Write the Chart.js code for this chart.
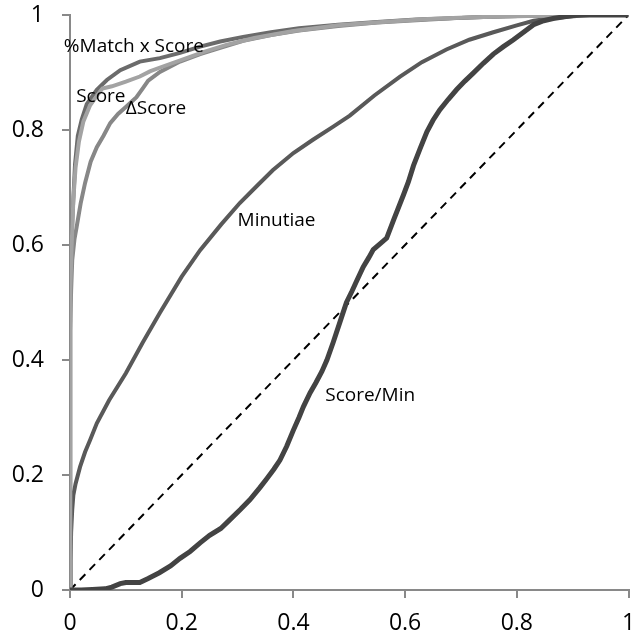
<!DOCTYPE html>
<html>
<head>
<meta charset="utf-8">
<script src="https://cdn.jsdelivr.net/npm/chart.js@4.4.1/dist/chart.umd.min.js"></script>
<style>
  html, body { margin: 0; padding: 0; background: #fff; overflow: hidden; }
  #wrap { width: 632px; height: 639px; position: relative; }
</style>
</head>
<body>
<div id="wrap"><canvas id="roc" width="632" height="639"></canvas></div>
<script>
// Axis ticks (both axes run 0..1)
const tickValues = [0, 0.2, 0.4, 0.6, 0.8, 1];
const tickLabels = ['0', '0.2', '0.4', '0.6', '0.8', '1'];

// %Match x Score
const matchScoreX = [0, 0, 0.001, 0.002, 0.004, 0.009, 0.014, 0.021, 0.03, 0.048, 0.066, 0.09, 0.125, 0.161, 0.197, 0.233, 0.269, 0.31, 0.36, 0.41, 0.48, 0.55, 0.62, 0.7, 0.78, 0.85, 0.9, 1];
const matchScoreY = [0, 0.45, 0.52, 0.58, 0.64, 0.74, 0.79, 0.818, 0.845, 0.87, 0.887, 0.904, 0.919, 0.925, 0.934, 0.945, 0.954, 0.962, 0.97, 0.977, 0.983, 0.988, 0.992, 0.995, 0.998, 0.999, 1, 1];

// Score
const scoreX = [0, 0, 0.001, 0.003, 0.006, 0.01, 0.016, 0.024, 0.036, 0.05, 0.058, 0.075, 0.1, 0.125, 0.143, 0.165, 0.2, 0.24, 0.28, 0.33, 0.4, 0.48, 0.56, 0.64, 0.72, 0.8, 0.86, 0.9, 1];
const scoreY = [0, 0.42, 0.52, 0.6, 0.68, 0.735, 0.78, 0.815, 0.843, 0.862, 0.872, 0.876, 0.884, 0.893, 0.902, 0.91, 0.922, 0.936, 0.948, 0.96, 0.972, 0.982, 0.988, 0.993, 0.996, 0.998, 0.999, 1, 1];

// ΔScore
const deltaScoreX = [0, 0, 0.002, 0.004, 0.008, 0.012, 0.019, 0.027, 0.037, 0.048, 0.06, 0.072, 0.086, 0.1, 0.119, 0.13, 0.14, 0.161, 0.197, 0.233, 0.269, 0.31, 0.36, 0.41, 0.48, 0.55, 0.62, 0.7, 0.78, 0.85, 0.9, 1];
const deltaScoreY = [0, 0.45, 0.52, 0.574, 0.61, 0.632, 0.672, 0.708, 0.745, 0.77, 0.79, 0.812, 0.828, 0.84, 0.857, 0.872, 0.886, 0.901, 0.919, 0.932, 0.943, 0.955, 0.965, 0.973, 0.981, 0.987, 0.991, 0.995, 0.998, 0.999, 1, 1];

// Minutiae
const minutiaeX = [0, 0.001, 0.002, 0.004, 0.006, 0.01, 0.018, 0.027, 0.036, 0.048, 0.07, 0.1, 0.13, 0.161, 0.2, 0.233, 0.27, 0.304, 0.335, 0.363, 0.4, 0.435, 0.47, 0.501, 0.545, 0.591, 0.63, 0.674, 0.715, 0.758, 0.8, 0.83, 0.86, 0.89, 0.93, 1];
const minutiaeY = [0, 0.05, 0.1, 0.14, 0.165, 0.185, 0.214, 0.24, 0.261, 0.29, 0.33, 0.377, 0.43, 0.482, 0.545, 0.591, 0.635, 0.673, 0.703, 0.73, 0.76, 0.783, 0.805, 0.825, 0.86, 0.893, 0.918, 0.94, 0.957, 0.97, 0.982, 0.99, 0.994, 0.997, 1, 1];

// Score/Min
const scoreMinX = [0, 0.02, 0.04, 0.063, 0.075, 0.09, 0.1, 0.125, 0.14, 0.16, 0.18, 0.197, 0.215, 0.233, 0.25, 0.27, 0.286, 0.305, 0.322, 0.34, 0.352, 0.365, 0.376, 0.388, 0.4, 0.41, 0.418, 0.43, 0.44, 0.451, 0.46, 0.471, 0.483, 0.495, 0.505, 0.513, 0.525, 0.535, 0.543, 0.555, 0.567, 0.58, 0.597, 0.606, 0.615, 0.627, 0.639, 0.65, 0.662, 0.677, 0.692, 0.707, 0.722, 0.74, 0.758, 0.776, 0.794, 0.812, 0.83, 0.848, 0.865, 0.885, 0.907, 1];
const scoreMinY = [0, 0, 0.001, 0.002, 0.005, 0.011, 0.013, 0.013, 0.02, 0.03, 0.042, 0.055, 0.067, 0.082, 0.095, 0.107, 0.122, 0.14, 0.157, 0.178, 0.193, 0.21, 0.226, 0.25, 0.278, 0.3, 0.319, 0.343, 0.36, 0.38, 0.4, 0.43, 0.465, 0.5, 0.52, 0.537, 0.562, 0.578, 0.592, 0.602, 0.612, 0.645, 0.687, 0.71, 0.738, 0.768, 0.797, 0.817, 0.835, 0.853, 0.87, 0.885, 0.899, 0.916, 0.932, 0.945, 0.957, 0.97, 0.983, 0.99, 0.994, 0.997, 1, 1];

// Chance line
const chanceX = [0, 1];
const chanceY = [0, 1];

// Curve captions, anchored in data units
const captionText = ['%Match x Score', 'Score', '\u0394Score', 'Minutiae', 'Score/Min'];
const captionX = [-0.011, 0.011, 0.100, 0.300, 0.457];
const captionY = [0.945, 0.858, 0.837, 0.642, 0.338];

function pts(xs, ys) { return xs.map((x, i) => ({ x: x, y: ys[i] })); }

const AXIS = '#898989';
const FONT = '"Open Sans", "DejaVu Sans", sans-serif';

const captions = {
  id: 'captions',
  afterDatasetsDraw(chart) {
    const { ctx, scales } = chart;
    ctx.save();
    ctx.font = '19px ' + FONT;
    ctx.fillStyle = '#000';
    ctx.textAlign = 'left';
    ctx.textBaseline = 'middle';
    captionText.forEach((t, i) => {
      ctx.fillText(t, scales.x.getPixelForValue(captionX[i]), scales.y.getPixelForValue(captionY[i]));
    });
    ctx.restore();
  }
};

function line(label, xs, ys, color, width, order, extra) {
  return Object.assign({
    label: label,
    data: pts(xs, ys),
    borderColor: color,
    borderWidth: width,
    pointRadius: 0,
    showLine: true,
    fill: false,
    tension: 0,
    order: order
  }, extra || {});
}

new Chart(document.getElementById('roc'), {
  type: 'scatter',
  data: {
    datasets: [
      line('chance', chanceX, chanceY, '#000000', 2, 6, { borderDash: [8, 6] }),
      line('Minutiae', minutiaeX, minutiaeY, '#595959', 4, 5),
      line('%Match x Score', matchScoreX, matchScoreY, '#6b6b6b', 4, 4),
      line('\u0394Score', deltaScoreX, deltaScoreY, '#878787', 4, 3),
      line('Score', scoreX, scoreY, '#a3a3a3', 4, 2),
      line('Score/Min', scoreMinX, scoreMinY, '#434343', 5, 1)
    ]
  },
  options: {
    responsive: false,
    animation: false,
    devicePixelRatio: 1,
    layout: { padding: { top: 15, right: 3.5, left: 0, bottom: 0 } },
    plugins: { legend: { display: false }, tooltip: { enabled: false } },
    scales: {
      x: {
        type: 'linear', min: 0, max: 1,
        afterBuildTicks(s) { s.ticks = tickValues.map(v => ({ value: v })); },
        afterFit(s) { s.height = 49; s.paddingLeft = 0; s.paddingRight = 0; },
        ticks: {
          callback: (v, i) => tickLabels[i],
          font: { family: FONT, size: 23 }, color: '#000', padding: 12, maxRotation: 0, autoSkip: false
        },
        grid: { drawOnChartArea: false, drawTicks: true, tickLength: 8, color: AXIS, lineWidth: 2 },
        border: { color: AXIS, width: 2 }
      },
      y: {
        type: 'linear', min: 0, max: 1,
        afterBuildTicks(s) { s.ticks = tickValues.map(v => ({ value: v })); },
        afterFit(s) { s.width = 70; s.paddingTop = 0; s.paddingBottom = 0; },
        ticks: {
          callback: (v, i) => tickLabels[i],
          font: { family: FONT, size: 23 }, color: '#000', padding: 18, autoSkip: false
        },
        grid: { drawOnChartArea: false, drawTicks: true, tickLength: 8, color: AXIS, lineWidth: 2 },
        border: { color: AXIS, width: 2 }
      }
    }
  },
  plugins: [captions]
});
</script>
</body>
</html>
